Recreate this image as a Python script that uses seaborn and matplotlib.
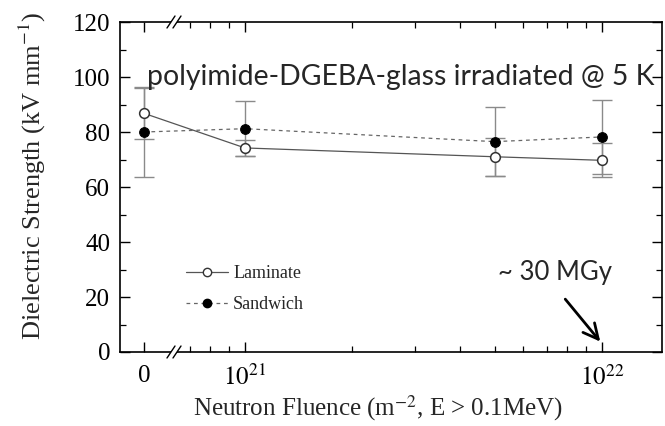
import numpy as np
import pandas as pd
import matplotlib
matplotlib.use("Agg")
import matplotlib.pyplot as plt
import seaborn as sns
from matplotlib.ticker import FixedLocator, FixedFormatter, MultipleLocator
from matplotlib.lines import Line2D

# ---------------- data ----------------
fluence = [0.0, 1e21, 5e21, 1e22]
laminate = [86.8, 74.2, 71.0, 69.7]
laminate_err = [9.2, 3.0, 7.0, 6.2]
sandwich = [80.0, 81.2, 76.5, 78.2]
sandwich_err = [16.5, 10.0, 12.5, 13.4]
major_ticks = [0.0, 1e21, 1e22]
major_labels = ["0", "$10^{21}$", "$10^{22}$"]
minor_ticks = [7e20, 8e20, 9e20, 2e21, 3e21, 4e21, 5e21, 6e21, 7e21, 8e21, 9e21]
y_ticks = [0, 20, 40, 60, 80, 100, 120]

sns.set_theme(style="ticks")
plt.rcParams["font.family"] = ["Liberation Serif", "DejaVu Serif"]
plt.rcParams["mathtext.fontset"] = "stix"

fig = plt.figure(figsize=(6.65, 4.26), dpi=100)
ax = fig.add_axes([120 / 665, 1 - 352 / 426, 542 / 665, 330 / 426])

# broken axis: linear segment for the zero point, log scale beyond
U0 = 20.717
T = 6.5e20
UT = np.log10(T)
K = (UT - U0) / T


def fwd(x):
    x = np.asarray(x, float)
    return np.where(x < T, U0 + x * K, np.log10(np.maximum(x, T)))


def inv(u):
    u = np.asarray(u, float)
    return np.where(u < UT, (u - U0) / K, 10 ** np.maximum(u, UT))


ax.set_xscale("function", functions=(fwd, inv))
ax.set_xlim(inv(20.650), inv(22.168))
ax.set_ylim(0, 120)

df_l = pd.DataFrame({"fluence": fluence, "strength": laminate})
df_s = pd.DataFrame({"fluence": fluence, "strength": sandwich})

ax.errorbar(fluence, laminate, yerr=laminate_err, fmt="none", ecolor="#8a8a8a",
            elinewidth=1.0, capsize=7.5, capthick=1.0, zorder=1)
ax.errorbar(fluence, sandwich, yerr=sandwich_err, fmt="none", ecolor="#8a8a8a",
            elinewidth=1.0, capsize=7.5, capthick=1.0, zorder=1)

sns.lineplot(data=df_l, x="fluence", y="strength", ax=ax, sort=False,
             color="#555555", lw=0.9, marker="o", markersize=7,
             markerfacecolor="white", markeredgecolor="#333333",
             markeredgewidth=1.1, zorder=3)
sns.lineplot(data=df_s, x="fluence", y="strength", ax=ax, sort=False,
             color="#666666", lw=0.9, linestyle=(0, (3, 3)), marker="o",
             markersize=7, markerfacecolor="black", markeredgecolor="black",
             zorder=3)

# ticks
ax.xaxis.set_major_locator(FixedLocator(major_ticks))
ax.xaxis.set_major_formatter(FixedFormatter(major_labels))
ax.xaxis.set_minor_locator(FixedLocator(minor_ticks))
ax.yaxis.set_major_locator(FixedLocator(y_ticks))
ax.yaxis.set_minor_locator(MultipleLocator(10))
ax.tick_params(which="both", direction="in", top=True, right=True, colors="black")
ax.tick_params(which="major", length=7, width=1.0, labelsize=18)
ax.tick_params(axis="x", which="major", pad=9)
ax.tick_params(axis="y", which="major", pad=7)
ax.tick_params(which="minor", length=4, width=0.9)
for s in ax.spines.values():
    s.set_linewidth(1.2)
    s.set_color("black")

ax.set_xlabel("Neutron Fluence (m$^{-2}$, E > 0.1MeV)", fontsize=18, va="center")
ax.set_ylabel("Dielectric Strength (kV mm$^{-1}$)", fontsize=19, va="center")
ax.xaxis.set_label_coords((378 - 120) / 542, (352 - 408) / 330)
ax.yaxis.set_label_coords((32 - 120) / 542, (352 - 176) / 330)

# break marks
xb = (174 - 120) / 542
px, py = 1 / 542, 1 / 330
for yb in (0, 1):
    ax.plot([xb - 3 * px, xb + 3 * px], [yb, yb], color="white", lw=3,
            transform=ax.transAxes, clip_on=False, zorder=5, solid_capstyle="butt")
    for dx in (-3, 3):
        ax.plot([xb + (dx - 4) * px, xb + (dx + 4) * px],
                [yb - 6 * py, yb + 6 * py], color="black", lw=1.0,
                transform=ax.transAxes, clip_on=False, zorder=6)

# legend
handles = [
    Line2D([], [], color="#555555", lw=0.9, marker="o", markersize=6,
           markerfacecolor="white", markeredgecolor="#333333"),
    Line2D([], [], color="#666666", lw=0.9, linestyle=(0, (3, 3)), marker="o",
           markersize=6, markerfacecolor="black", markeredgecolor="black"),
]
ax.legend(handles, ["Laminate", "Sandwich"], loc="upper left",
          bbox_to_anchor=((186 - 120) / 542, (352 - 265) / 330),
          frameon=False, fontsize=13, handlelength=2.33, handletextpad=0.28,
          labelspacing=0.8, borderpad=0, borderaxespad=0)

# annotations
ax.text((147 - 120) / 542, (352 - 77) / 330,
        "polyimide-DGEBA-glass irradiated @ 5 K", transform=ax.transAxes,
        fontsize=20.4, family=["Lato", "DejaVu Sans"], ha="left", va="center",
        clip_on=False)
ax.text(5.1e21, 29, "~ 30 MGy", fontsize=18.5, family=["Lato", "DejaVu Sans"],
        ha="left", va="center")
ax.annotate("", xy=(1e22, 3), xytext=(7.8e21, 20),
            arrowprops=dict(arrowstyle="->,head_length=0.9,head_width=0.45",
                            color="black", lw=2))

fig.savefig("out.png", dpi=100)
